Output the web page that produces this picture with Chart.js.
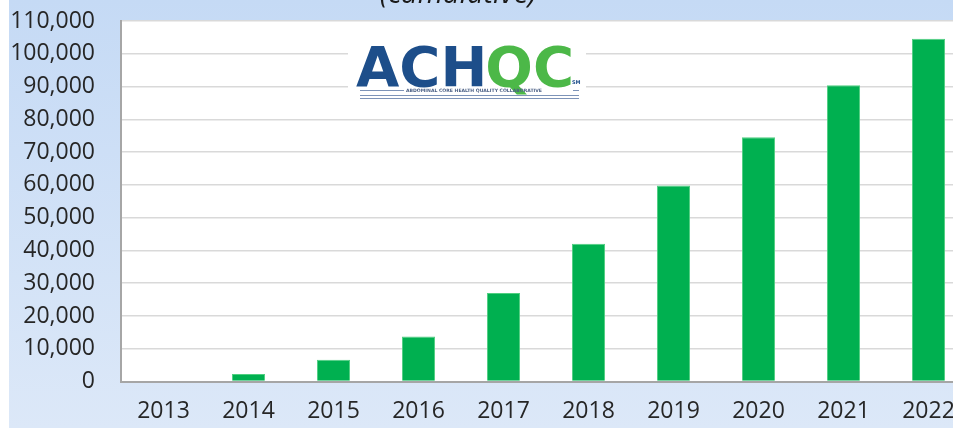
<!DOCTYPE html>
<html>
<head>
<meta charset="utf-8">
<script src="https://cdn.jsdelivr.net/npm/chart.js@4"></script>
<style>
    html, body { margin: 0; padding: 0; overflow: hidden; background: #fff; }
    #wrap { width: 972px; height: 428px; position: relative; }
</style>
</head>
<body>
<div id="wrap"><canvas id="chart"></canvas></div>
<script>
const years = ["2013", "2014", "2015", "2016", "2017", "2018", "2019", "2020", "2021", "2022"];
const patients = [0, 2300, 6600, 13700, 27000, 42000, 59800, 74500, 90400, 104600];
const titleText = "(cumulative)";

const FONT = "'Open Sans', sans-serif";

// page background: white strip on the left, then blue gradient
const backdrop = {
    id: "backdrop",
    beforeDraw(chart) {
        const { ctx, width, height, chartArea } = chart;
        ctx.save();
        ctx.fillStyle = "#ffffff";
        ctx.fillRect(0, 0, width, height);
        const g = ctx.createLinearGradient(0, 0, 0, height);
        g.addColorStop(0, "#c5daf5");
        g.addColorStop(1, "#dce8f8");
        ctx.fillStyle = g;
        ctx.fillRect(9, 0, width - 9, height);
        ctx.fillStyle = "#ffffff";
        ctx.fillRect(chartArea.left, chartArea.top, chartArea.right - chartArea.left, chartArea.bottom - chartArea.top);
        ctx.restore();
    },
};

// title (cut off at top) and the ACHQC logo
const decor = {
    id: "decor",
    beforeDatasetsDraw(chart) {
        const { ctx } = chart;
        ctx.save();
        ctx.fillStyle = "#1a1a1a";
        ctx.font = "italic 29px " + FONT;
        ctx.textAlign = "center";
        ctx.textBaseline = "alphabetic";
        ctx.fillText(titleText, 458, 3);

        // logo box hides gridlines
        ctx.fillStyle = "#ffffff";
        ctx.fillRect(348, 38, 238, 64);

        ctx.font = "bold 56px 'DejaVu Sans', sans-serif";
        ctx.textAlign = "left";
        ctx.textBaseline = "alphabetic";
        ctx.fillStyle = "#1d4e8a";
        ctx.fillText("ACH", 356, 86);
        const w = ctx.measureText("ACH").width;
        ctx.fillStyle = "#4cb848";
        ctx.fillText("QC", 356 + w - 2, 86);

        ctx.fillStyle = "#1d4e8a";
        ctx.font = "bold 5px 'DejaVu Sans', sans-serif";
        ctx.fillText("SM", 572, 84);

        ctx.strokeStyle = "#7d93b8";
        ctx.lineWidth = 1;
        ctx.beginPath();
        ctx.moveTo(360, 90.5); ctx.lineTo(404, 90.5);
        ctx.moveTo(573, 90.5); ctx.lineTo(579, 90.5);
        ctx.moveTo(360, 95.5); ctx.lineTo(579, 95.5);
        ctx.moveTo(360, 98.5); ctx.lineTo(579, 98.5);
        ctx.stroke();
        ctx.fillStyle = "#4a5f85";
        ctx.font = "bold 4.6px 'DejaVu Sans', sans-serif";
        ctx.textBaseline = "middle";
        ctx.fillText("ABDOMINAL CORE HEALTH QUALITY COLLABORATIVE", 406, 91);
        ctx.restore();
    },
};

new Chart(document.getElementById("chart"), {
    type: "bar",
    data: {
        labels: years,
        datasets: [
            {
                label: "Patients",
                data: patients,
                backgroundColor: "#00b050",
                borderColor: "#4fcf80",
                borderWidth: 1,
                categoryPercentage: 1,
                barPercentage: 0.39,
            },
        ],
    },
    options: {
        responsive: true,
        maintainAspectRatio: false,
        animation: false,
        layout: { padding: { top: 21, right: 1, left: 0, bottom: 0 } },
        scales: {
            x: {
                afterFit: (scale) => {
                    scale.height = 46.5;
                    scale.paddingLeft = 0;
                    scale.paddingRight = 0;
                },
                grid: { display: false, drawTicks: false },
                border: { display: true, color: "#a6a6a6", width: 2 },
                ticks: {
                    padding: 16,
                    color: "#262626",
                    font: { family: FONT, size: 23 },
                    maxRotation: 0,
                },
            },
            y: {
                min: 0,
                max: 110000,
                afterFit: (scale) => {
                    scale.width = 121;
                    scale.paddingTop = 0;
                    scale.paddingBottom = 0;
                },
                grid: { color: "#d9d9d9", lineWidth: 1.5, drawTicks: false },
                border: { display: true, color: "#a6a6a6", width: 2 },
                ticks: {
                    stepSize: 10000,
                    padding: 26,
                    color: "#262626",
                    font: { family: FONT, size: 23 },
                    callback: (v) => v.toLocaleString("en-US"),
                },
            },
        },
        plugins: {
            legend: { display: false },
            tooltip: { enabled: false },
        },
    },
    plugins: [backdrop, decor],
});
</script>
</body>
</html>
